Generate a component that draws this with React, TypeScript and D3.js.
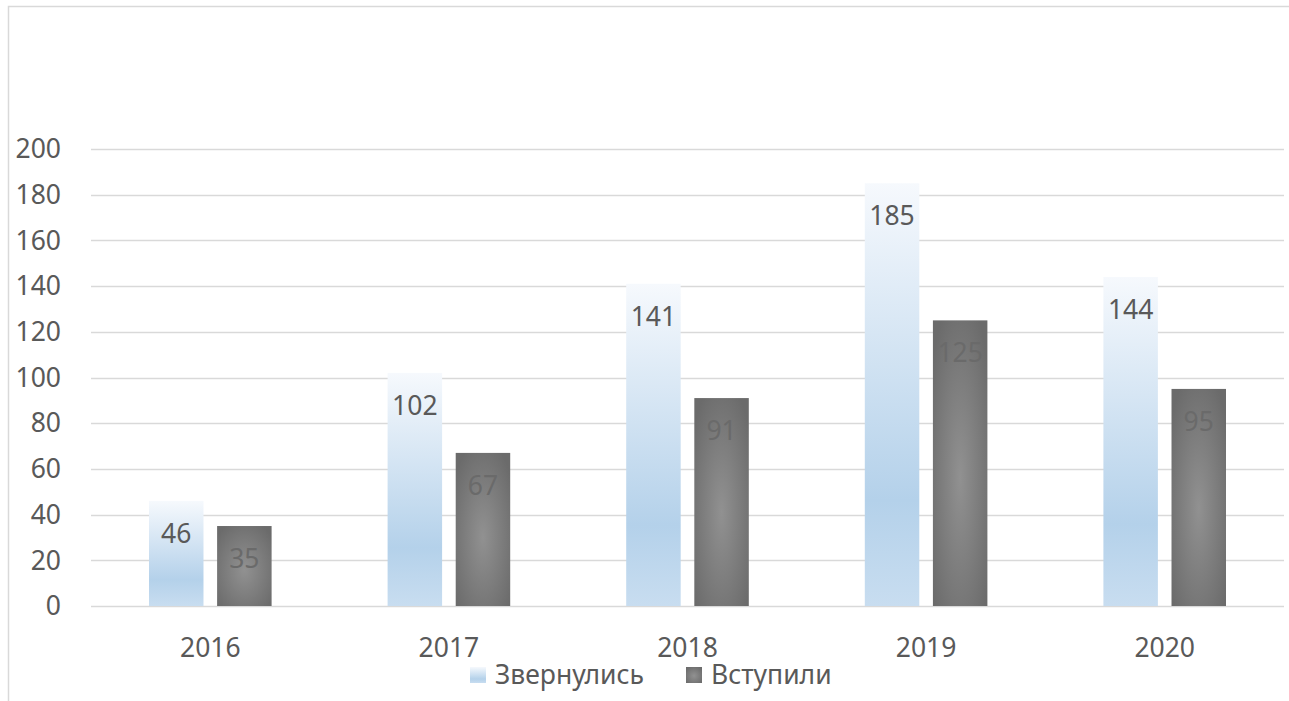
import { useEffect, useRef } from 'react';
import * as d3 from 'd3';

const years = ['2016', '2017', '2018', '2019', '2020'];
const applied = [46, 102, 141, 185, 144];
const enrolled = [35, 67, 91, 125, 95];
const seriesNames = ['Звернулись', 'Вступили'];
const yTicks = [0, 20, 40, 60, 80, 100, 120, 140, 160, 180, 200];

export default function App() {
  const svgRef = useRef<SVGSVGElement>(null);

  useEffect(() => {
    if (!svgRef.current) return;
    const svg = d3.select(svgRef.current);
    svg.selectAll('*').remove();

    const width = 1289;
    const height = 701;
    const margin = { top: 149, right: 5, bottom: 95, left: 91 };
    const innerW = width - margin.left - margin.right;
    const innerH = height - margin.top - margin.bottom;
    const font = '"Noto Sans", "Open Sans", sans-serif';
    const fontSize = 26.5;

    const defs = svg.append('defs');

    const blue = defs.append('linearGradient')
      .attr('id', 'blue-grad')
      .attr('x1', '0%').attr('y1', '0%')
      .attr('x2', '0%').attr('y2', '100%');
    blue.append('stop').attr('offset', '0%').attr('stop-color', '#f6f9fd');
    blue.append('stop').attr('offset', '75%').attr('stop-color', '#b4d1ea');
    blue.append('stop').attr('offset', '100%').attr('stop-color', '#c8ddf0');

    const gray = defs.append('radialGradient')
      .attr('id', 'gray-grad')
      .attr('cx', '50%').attr('cy', '55%').attr('r', '65%');
    gray.append('stop').attr('offset', '0%').attr('stop-color', '#919191');
    gray.append('stop').attr('offset', '100%').attr('stop-color', '#6b6b6b');

    // chart frame
    svg.append('path')
      .attr('d', `M8.5,${height} V6.5 H${width}`)
      .attr('fill', 'none')
      .attr('stroke', '#d9d9d9')
      .attr('stroke-width', 1.5);

    const g = svg.append('g')
      .attr('transform', `translate(${margin.left},${margin.top})`);

    const x0 = d3.scaleBand<string>()
      .domain(years)
      .range([0, innerW]);

    const x1 = d3.scaleBand<number>()
      .domain([0, 1])
      .range([58, x0.bandwidth() - 58])
      .paddingInner(0.2);

    const y = d3.scaleLinear()
      .domain([0, 200])
      .range([innerH, 0]);

    // grid
    g.append('g')
      .selectAll('line')
      .data(yTicks)
      .join('line')
      .attr('x1', 0)
      .attr('x2', innerW)
      .attr('y1', d => Math.round(y(d)) + 0.5)
      .attr('y2', d => Math.round(y(d)) + 0.5)
      .attr('stroke', '#d9d9d9')
      .attr('stroke-width', 1.5);

    // y labels
    g.append('g')
      .selectAll('text')
      .data(yTicks)
      .join('text')
      .attr('x', -30)
      .attr('y', d => y(d))
      .attr('dy', '0.35em')
      .attr('text-anchor', 'end')
      .attr('font-family', font)
      .attr('font-size', fontSize)
      .attr('fill', '#595959')
      .text(d => d);

    // x labels
    g.append('g')
      .selectAll('text')
      .data(years)
      .join('text')
      .attr('x', d => (x0(d) ?? 0) + x0.bandwidth() / 2)
      .attr('y', innerH + 51)
      .attr('text-anchor', 'middle')
      .attr('font-family', font)
      .attr('font-size', fontSize)
      .attr('fill', '#595959')
      .text(d => d);

    const groups = g.selectAll('.year')
      .data(years)
      .join('g')
      .attr('class', 'year')
      .attr('transform', d => `translate(${x0(d)},0)`);

    const series = [applied, enrolled];
    const fills = ['url(#blue-grad)', 'url(#gray-grad)'];
    const labelColors = ['#595959', '#6a6a6a'];

    groups.each(function (_, i) {
      const grp = d3.select(this);
      series.forEach((vals, s) => {
        const v = vals[i];
        grp.append('rect')
          .attr('x', x1(s) ?? 0)
          .attr('width', x1.bandwidth())
          .attr('y', y(v))
          .attr('height', innerH - y(v))
          .attr('fill', fills[s]);
        grp.append('text')
          .attr('x', (x1(s) ?? 0) + x1.bandwidth() / 2)
          .attr('y', y(v) + 42)
          .attr('text-anchor', 'middle')
          .attr('font-family', font)
          .attr('font-size', fontSize)
          .attr('fill', labelColors[s])
          .text(v);
      });
    });

    // legend
    const legend = svg.append('g')
      .attr('transform', 'translate(0,675)');
    const legendItems = [
      { name: seriesNames[0], fill: 'url(#blue-grad)', x: 470 },
      { name: seriesNames[1], fill: 'url(#gray-grad)', x: 686 },
    ];
    legendItems.forEach(item => {
      legend.append('rect')
        .attr('x', item.x)
        .attr('y', -8)
        .attr('width', 16)
        .attr('height', 16)
        .attr('fill', item.fill);
      legend.append('text')
        .attr('x', item.x + 25)
        .attr('y', 0)
        .attr('dy', '0.35em')
        .attr('font-family', font)
        .attr('font-size', fontSize)
        .attr('fill', '#595959')
        .text(item.name);
    });
  }, []);

  return (
    <div style={{ position: 'fixed', left: 0, top: 0, background: '#fff' }}>
      <svg ref={svgRef} width={1289} height={701} style={{ display: 'block' }} />
    </div>
  );
}
